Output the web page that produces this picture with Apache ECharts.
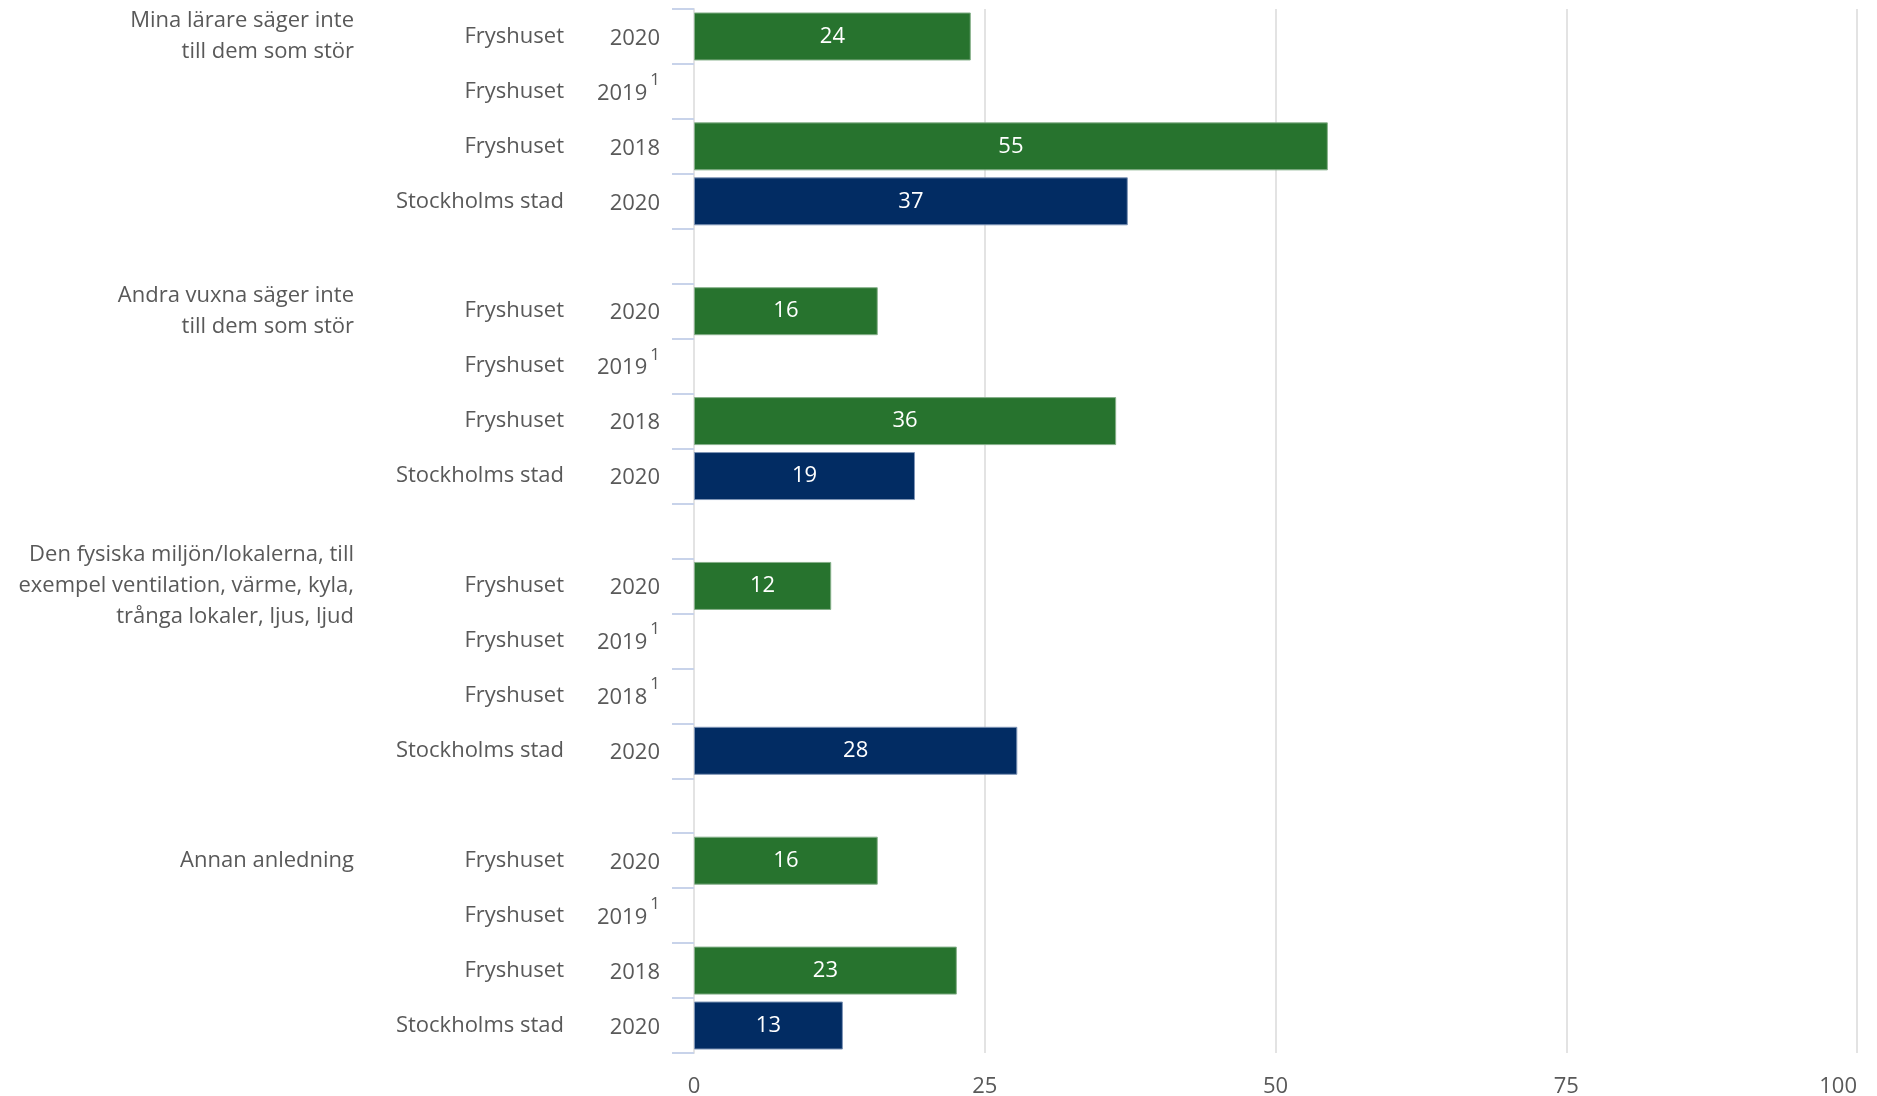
<!DOCTYPE html>
<html>
<head>
<meta charset="utf-8">
<script src="https://cdn.jsdelivr.net/npm/echarts@6/dist/echarts.min.js"></script>
<style>
  html, body { margin: 0; padding: 0; background: #fff; }
  #Chart1 { width: 1877px; height: 1096px; }
</style>
</head>
<body>
<div id="Chart1"></div>
<script>
// one row per category slot, '' rows are the gaps between the groups
const rowGroup = [
    'Mina lärare säger inte\ntill dem som stör', '', '', '', '',
    'Andra vuxna säger inte\ntill dem som stör', '', '', '', '',
    'Den fysiska miljön/lokalerna, till\nexempel ventilation, värme, kyla,\ntrånga lokaler, ljus, ljud', '', '', '', '',
    'Annan anledning', '', '', ''
];
const rowSource = [
    'Fryshuset', 'Fryshuset', 'Fryshuset', 'Stockholms stad', '',
    'Fryshuset', 'Fryshuset', 'Fryshuset', 'Stockholms stad', '',
    'Fryshuset', 'Fryshuset', 'Fryshuset', 'Stockholms stad', '',
    'Fryshuset', 'Fryshuset', 'Fryshuset', 'Stockholms stad'
];
const rowYear = [
    '2020', '2019', '2018', '2020', '',
    '2020', '2019', '2018', '2020', '',
    '2020', '2019', '2018', '2020', '',
    '2020', '2019', '2018', '2020'
];
const rowNote = [
    '', '1', '', '', '',
    '', '1', '', '', '',
    '', '1', '1', '', '',
    '', '1', '', ''
];
const fryshusetValues = [
    23.8, null, 54.5, null, null,
    15.8, null, 36.3, null, null,
    11.8, null, null, null, null,
    15.8, null, 22.6, null
];
const stockholmValues = [
    null, null, null, 37.3, null,
    null, null, null, 19.0, null,
    null, null, null, 27.8, null,
    null, null, null, 12.8
];
const xTicks = [0, 25, 50, 75, 100];

const rowKeys = rowYear.map((y, i) => String(i));
const textColor = '#595959';
const fontFamily = '"Open Sans", sans-serif';

var dom = document.getElementById('Chart1');
var myChart = echarts.init(dom, null, { renderer: 'canvas' });

const barLabel = {
    show: true,
    position: 'inside',
    color: '#fff',
    fontSize: 22,
    fontFamily: fontFamily,
    padding: [5, 0, 0, 0],
    formatter: p => Math.round(p.value)
};

const hiddenAxisParts = {
    position: 'left',
    axisLine: { show: false },
    axisTick: { show: false },
    splitLine: { show: false }
};

var option = {
    animation: false,
    grid: { left: 694, right: 20, top: 9, bottom: 43, containLabel: false, outerBoundsMode: 'none' },
    xAxis: {
        type: 'value',
        min: xTicks[0],
        max: xTicks[xTicks.length - 1],
        interval: 25,
        axisLine: { show: false },
        axisTick: { show: false },
        splitLine: { show: true, lineStyle: { color: '#e3e3e3', width: 2 } },
        axisLabel: {
            fontSize: 22, color: textColor, fontFamily: fontFamily, margin: 23,
            alignMaxLabel: 'right'
        }
    },
    yAxis: [
        {
            // years (with footnote mark)
            type: 'category',
            position: 'left',
            data: rowKeys,
            inverse: true,
            axisLine: { show: true, lineStyle: { color: '#e3e3e3', width: 2 } },
            axisTick: { show: true, interval: 0, length: 22, lineStyle: { color: '#c8d3ea', width: 2 } },
            splitLine: { show: false },
            axisLabel: {
                interval: 0,
                margin: 34,
                padding: [4, 0, 0, 0],
                formatter: (v, i) => {
                    if (!rowYear[i]) return '';
                    return '{y|' + rowYear[i] + '}' + (rowNote[i] ? '{s|' + rowNote[i] + '}' : '');
                },
                rich: {
                    y: { fontSize: 22, color: textColor, fontFamily: fontFamily, lineHeight: 44 },
                    s: { fontSize: 17, color: textColor, fontFamily: fontFamily, lineHeight: 25,
                         verticalAlign: 'top', padding: [0, 0, 0, 3] }
                }
            }
        },
        Object.assign({
            // source names
            type: 'category',
            data: rowKeys,
            inverse: true,
            axisLabel: {
                interval: 0,
                margin: 130,
                padding: [4, 0, 0, 0],
                fontSize: 22,
                color: textColor,
                fontFamily: fontFamily,
                formatter: (v, i) => rowSource[i]
            }
        }, hiddenAxisParts),
        Object.assign({
            // question groups
            type: 'category',
            data: rowKeys,
            inverse: true,
            axisLabel: {
                interval: 0,
                margin: 340,
                padding: [4, 0, 0, 0],
                fontSize: 22,
                lineHeight: 31,
                align: 'right',
                color: textColor,
                fontFamily: fontFamily,
                formatter: (v, i) => rowGroup[i]
            }
        }, hiddenAxisParts)
    ],
    series: [
        {
            name: 'Fryshuset',
            type: 'bar',
            yAxisIndex: 0,
            data: fryshusetValues,
            barWidth: 48,
            barGap: '-100%',
            label: barLabel,
            itemStyle: { color: '#27732e', borderColor: '#86b08a', borderWidth: 1 }
        },
        {
            name: 'Stockholms stad',
            type: 'bar',
            yAxisIndex: 0,
            data: stockholmValues,
            barWidth: 48,
            barGap: '-100%',
            label: barLabel,
            itemStyle: { color: '#022c63', borderColor: '#7f95b6', borderWidth: 1 }
        }
    ]
};
myChart.setOption(option);
</script>
</body>
</html>
